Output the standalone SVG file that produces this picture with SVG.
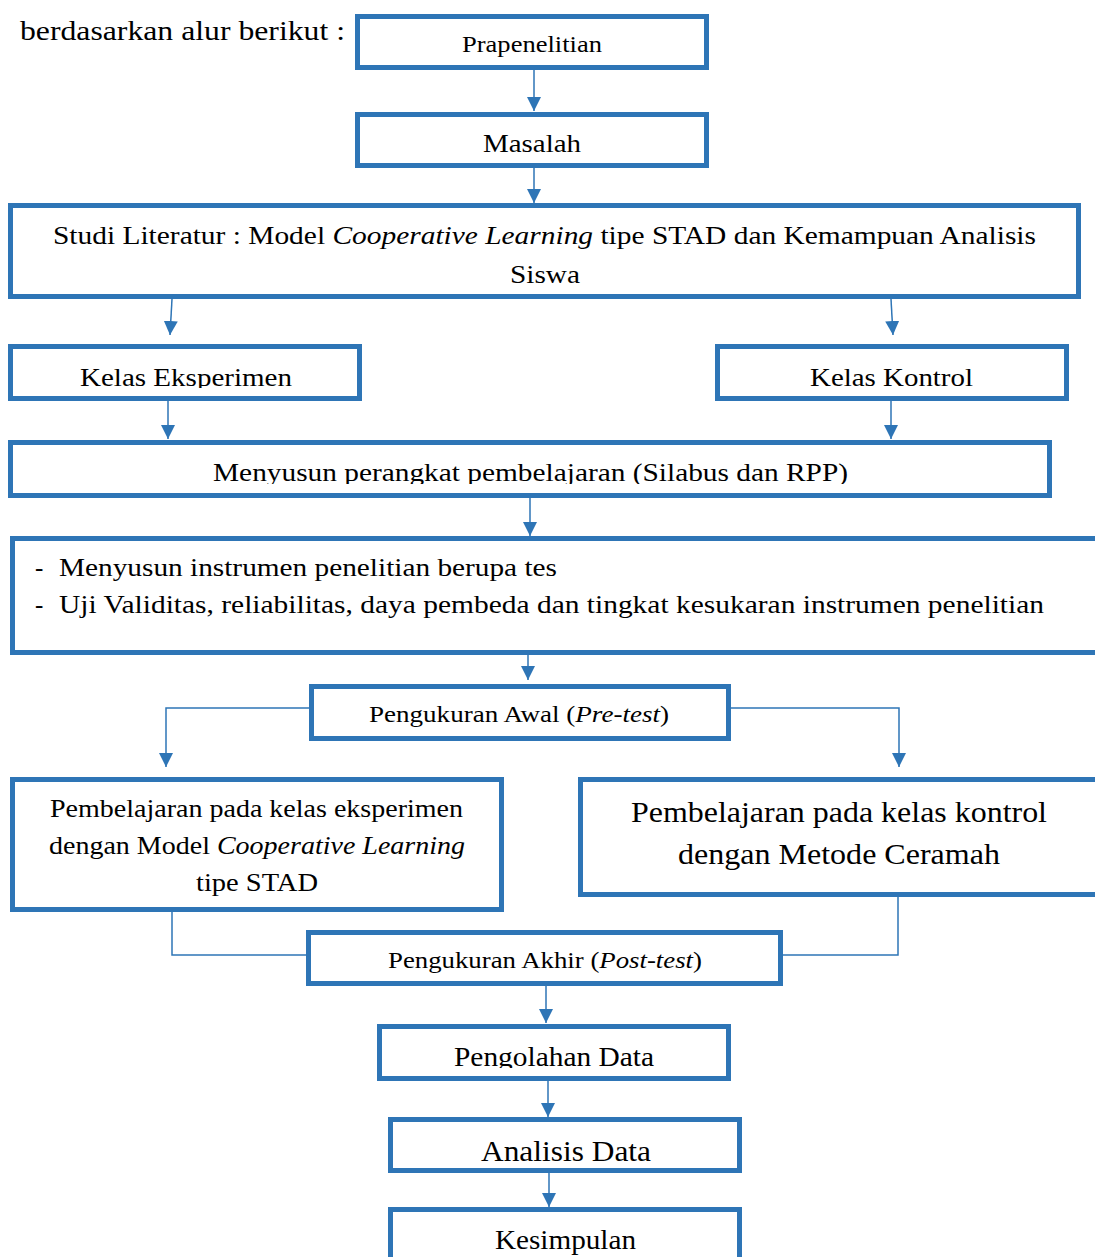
<svg xmlns="http://www.w3.org/2000/svg" width="1095" height="1257" viewBox="0 0 1095 1257">
<defs>
<style>
.box{fill:#fff;stroke:#2E75B6;stroke-width:5}
.t{font-family:"Liberation Serif","Times New Roman",serif;fill:#000;text-anchor:middle}
.l{text-anchor:start}
.c{fill:none;stroke:#2E75B6;stroke-width:1.5}
</style>
<marker id="a" markerUnits="userSpaceOnUse" markerWidth="14" markerHeight="14" refX="14" refY="7" orient="auto" viewBox="0 0 14 14">
<path d="M0,0 L14,7 L0,14 Z" fill="#2E75B6"/>
</marker>
<clipPath id="cKE"><rect x="10" y="346" width="350" height="42"/></clipPath>
<clipPath id="cKK"><rect x="717" y="346" width="350" height="42"/></clipPath>
<clipPath id="cMP"><rect x="10" y="442" width="1040" height="42"/></clipPath>
<clipPath id="cPD"><rect x="379" y="1026" width="350" height="42"/></clipPath>
<clipPath id="cAD"><rect x="390" y="1119" width="350" height="43"/></clipPath>
</defs>
<text x="20" y="40" class="t l" font-size="27" textLength="325" lengthAdjust="spacingAndGlyphs">berdasarkan alur berikut :</text>
<g id="connectors">
<line class="c" x1="534" y1="70" x2="534" y2="111" marker-end="url(#a)"/>
<line class="c" x1="534" y1="168" x2="534" y2="203" marker-end="url(#a)"/>
<line class="c" x1="172" y1="299" x2="170" y2="335" marker-end="url(#a)"/>
<line class="c" x1="891" y1="299" x2="893" y2="335" marker-end="url(#a)"/>
<line class="c" x1="168" y1="401" x2="168" y2="439" marker-end="url(#a)"/>
<line class="c" x1="891" y1="401" x2="891" y2="439" marker-end="url(#a)"/>
<line class="c" x1="530" y1="498" x2="530" y2="536" marker-end="url(#a)"/>
<line class="c" x1="528" y1="655" x2="528" y2="680" marker-end="url(#a)"/>
<polyline class="c" points="309,708 166,708 166,767" marker-end="url(#a)"/>
<polyline class="c" points="731,708 899,708 899,767" marker-end="url(#a)"/>
<polyline class="c" points="172,912 172,955 307,955"/>
<polyline class="c" points="898,897 898,955 783,955"/>
<line class="c" x1="546" y1="986" x2="546" y2="1023" marker-end="url(#a)"/>
<line class="c" x1="548" y1="1081" x2="548" y2="1117" marker-end="url(#a)"/>
<line class="c" x1="549" y1="1173" x2="549" y2="1207" marker-end="url(#a)"/>
</g>
<g id="n-prapenelitian">
<rect class="box" x="357.5" y="16.5" width="349" height="51"/>
<text class="t" x="532" y="52" font-size="23" textLength="140" lengthAdjust="spacingAndGlyphs">Prapenelitian</text>
</g>
<g id="n-masalah">
<rect class="box" x="357.5" y="114.5" width="349" height="51"/>
<text class="t" x="532" y="152" font-size="25" textLength="98" lengthAdjust="spacingAndGlyphs">Masalah</text>
</g>
<g id="n-studi">
<rect class="box" x="10.5" y="205.5" width="1068" height="91"/>
<text class="t" x="544.5" y="244" font-size="25" textLength="983" lengthAdjust="spacingAndGlyphs">Studi Literatur : Model <tspan font-style="italic">Cooperative Learning</tspan> tipe STAD dan Kemampuan Analisis</text>
<text class="t" x="545" y="283" font-size="25" textLength="70" lengthAdjust="spacingAndGlyphs">Siswa</text>
</g>
<g id="n-eksperimen">
<rect class="box" x="10.5" y="346.5" width="349" height="52"/>
<text class="t" x="186" y="386" font-size="25" clip-path="url(#cKE)" textLength="212" lengthAdjust="spacingAndGlyphs">Kelas Eksperimen</text>
</g>
<g id="n-kontrol">
<rect class="box" x="717.5" y="346.5" width="349" height="52"/>
<text class="t" x="891.5" y="386" font-size="25" clip-path="url(#cKK)" textLength="163" lengthAdjust="spacingAndGlyphs">Kelas Kontrol</text>
</g>
<g id="n-perangkat">
<rect class="box" x="10.5" y="442.5" width="1039" height="53"/>
<text class="t" x="530.5" y="481" font-size="25" clip-path="url(#cMP)" textLength="635" lengthAdjust="spacingAndGlyphs">Menyusun perangkat pembelajaran (Silabus dan RPP)</text>
</g>
<g id="n-instrumen">
<rect class="box" x="12.5" y="538.5" width="1090" height="114"/>
<text class="t l" x="35" y="576" font-size="25">-</text>
<text class="t l" x="59" y="576" font-size="25" textLength="498" lengthAdjust="spacingAndGlyphs">Menyusun instrumen penelitian berupa tes</text>
<text class="t l" x="35" y="613" font-size="25">-</text>
<text class="t l" x="59" y="613" font-size="25" textLength="985" lengthAdjust="spacingAndGlyphs">Uji Validitas, reliabilitas, daya pembeda dan tingkat kesukaran instrumen penelitian</text>
</g>
<g id="n-pretest">
<rect class="box" x="311.5" y="686.5" width="417" height="52"/>
<text class="t" x="519" y="722" font-size="23" textLength="300" lengthAdjust="spacingAndGlyphs">Pengukuran Awal (<tspan font-style="italic">Pre-test</tspan>)</text>
</g>
<g id="n-pemb-eksperimen">
<rect class="box" x="12.5" y="779.5" width="489" height="130"/>
<text class="t" x="256.5" y="817" font-size="25" textLength="413" lengthAdjust="spacingAndGlyphs">Pembelajaran pada kelas eksperimen</text>
<text class="t" x="257" y="854" font-size="25" textLength="416" lengthAdjust="spacingAndGlyphs">dengan Model <tspan font-style="italic">Cooperative Learning</tspan></text>
<text class="t" x="257" y="891" font-size="25" textLength="122" lengthAdjust="spacingAndGlyphs">tipe STAD</text>
</g>
<g id="n-pemb-kontrol">
<rect class="box" x="580.5" y="779.5" width="520" height="115"/>
<text class="t" x="839" y="822" font-size="29" textLength="416" lengthAdjust="spacingAndGlyphs">Pembelajaran pada kelas kontrol</text>
<text class="t" x="839" y="864" font-size="29" textLength="322" lengthAdjust="spacingAndGlyphs">dengan Metode Ceramah</text>
</g>
<g id="n-posttest">
<rect class="box" x="308.5" y="932.5" width="472" height="51"/>
<text class="t" x="545" y="968" font-size="23" textLength="314" lengthAdjust="spacingAndGlyphs">Pengukuran Akhir (<tspan font-style="italic">Post-test</tspan>)</text>
</g>
<g id="n-pengolahan">
<rect class="box" x="379.5" y="1026.5" width="349" height="52"/>
<text class="t" x="554" y="1066" font-size="27" clip-path="url(#cPD)" textLength="200" lengthAdjust="spacingAndGlyphs">Pengolahan Data</text>
</g>
<g id="n-analisis">
<rect class="box" x="390.5" y="1119.5" width="349" height="51"/>
<text class="t" x="566" y="1161" font-size="29" clip-path="url(#cAD)" textLength="170" lengthAdjust="spacingAndGlyphs">Analisis Data</text>
</g>
<g id="n-kesimpulan">
<rect class="box" x="390.5" y="1209.5" width="349" height="60"/>
<text class="t" x="565.5" y="1249" font-size="27" textLength="141" lengthAdjust="spacingAndGlyphs">Kesimpulan</text>
</g>
</svg>
